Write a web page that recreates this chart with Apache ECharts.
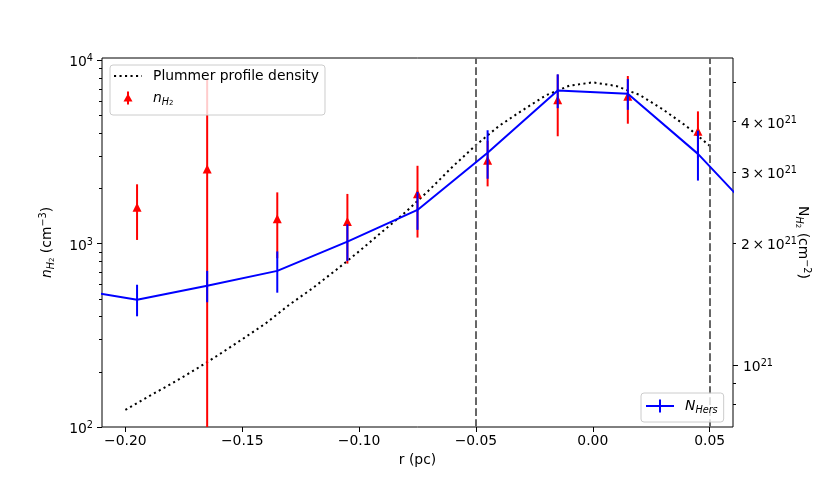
<!DOCTYPE html>
<html><head><meta charset="utf-8">
<script src="https://cdn.jsdelivr.net/npm/echarts@6/dist/echarts.min.js"></script>
<style>html,body{margin:0;padding:0;background:#fff}#c{width:814px;height:480px}</style>
</head><body><div id="c"></div>
<script>
// ---- data ----
const rPlummer = [-0.20,-0.19,-0.18,-0.17,-0.16,-0.15,-0.14,-0.13,-0.12,-0.11,-0.10,-0.09,-0.08,-0.07,-0.06,-0.05,-0.04,-0.03,-0.02,-0.01,0.00,0.01,0.02,0.03,0.04,0.05];
const nPlummer = [124,147,173,206,248,301,367,463,570,716,908,1165,1490,1960,2630,3450,4400,5350,6450,7280,7586,7250,6480,5400,4380,3420];

const rN = [-0.195,-0.165,-0.135,-0.105,-0.075,-0.045,-0.015,0.015,0.045];
const nH2 = [1578,2556,1369,1323,1870,2849,6104,6363,4099];
const nH2Err = [530,5300,536,545,790,795,2250,1850,1170];

const rHers = [-0.225,-0.195,-0.165,-0.135,-0.105,-0.075,-0.045,-0.015,0.015,0.045,0.075];
const NHers = [1.55e21,1.45e21,1.57e21,1.71e21,2.02e21,2.42e21,3.35e21,4.78e21,4.69e21,3.33e21,2.18e21];
const NHersErr = [0.13e21,0.13e21,0.14e21,0.20e21,0.21e21,0.26e21,0.46e21,0.46e21,0.41e21,0.47e21,0.30e21];

const vLines = [-0.05, 0.05];
const xTicks = [-0.20,-0.15,-0.10,-0.05,0.00,0.05];
const leftMajor = [100,1000,10000];
const leftMinor = [200,300,400,500,600,700,800,900,2000,3000,4000,5000,6000,7000,8000,9000];
const rightMajor = [1e21];
const rightMinorLabeled = [2e21,3e21,4e21];
const rightMinor = [8e20,9e20,2e21,3e21,4e21,5e21];
const xRange = [-0.21, 0.06];
const nRange = [100, 10300];
const NRange = [0.7025e21, 5.75e21];

// ---- styling ----
const FF = 'DejaVu Sans';
const FS = 13.9;
const rich = {
  t:  {fontFamily:FF, fontSize:FS, color:'#000', lineHeight:18},
  it: {fontFamily:FF, fontSize:FS, color:'#000', lineHeight:18, fontStyle:'italic'},
  sub:{fontFamily:FF, fontSize:9.7, color:'#000', lineHeight:8, verticalAlign:'bottom', fontStyle:'italic'},
  ss: {fontFamily:FF, fontSize:7, color:'#000', lineHeight:4, verticalAlign:'bottom'},
  sup:{fontFamily:FF, fontSize:9.7, color:'#000', lineHeight:8, verticalAlign:'top'},
  b:  {fontFamily:FF, fontSize:FS, color:'#000', lineHeight:18},
  sp: {fontFamily:FF, fontSize:FS, width:6}
};
const L = Math.log10;
const tickStyle = {color:'#000', width:1};

function errRender(color) {
  return function (params, api) {
    const x = api.value(0), y = api.value(1), e = api.value(2);
    const cs = params.coordSys;
    const top = api.coord([x, y + e]);
    if (top[0] < cs.x - 0.5 || top[0] > cs.x + cs.width + 0.5) return null;
    const yTop = Math.max(top[1], cs.y);
    let yBot = (y - e > 0) ? api.coord([x, y - e])[1] : cs.y + cs.height;
    yBot = Math.min(yBot, cs.y + cs.height);
    return {type:'line', shape:{x1:top[0], y1:yTop, x2:top[0], y2:yBot},
            style:{stroke:color, lineWidth:2}};
  };
}
function powLabel(v) {
  const exp = Math.floor(v + 1e-9);
  const m = Math.round(Math.pow(10, v - exp));
  return m === 1 ? '{b|10}{sup|' + exp + '}' : '{b|' + m + '\u2009×\u200910}{sup|' + exp + '}';
}
const hidden = {axisLine:{show:false, onZero:false}, axisTick:{show:false}, axisLabel:{show:false}, splitLine:{show:false}};

const B = 'M0,7L0.01,7L0.01,7.01Z M28,7L27.99,7L27.99,7.01Z ';
const dotIcon = 'path://' + B + 'M0,6L2.1,6L2.1,8L0,8Z M5.5,6L7.6,6L7.6,8L5.5,8Z M11,6L13.1,6L13.1,8L11,8Z M16.5,6L18.6,6L18.6,8L16.5,8Z M22,6L24.1,6L24.1,8L22,8Z M27.5,6L28,6L28,8L27.5,8Z';
const redIcon = 'path://' + B + 'M13,0.5L15,0.5L15,13.5L13,13.5Z M14,2.5L18.5,10.5L9.5,10.5Z';
const blueIcon = 'path://' + B + 'M0,6L28,6L28,8L0,8Z M13,0.5L15,0.5L15,13.5L13,13.5Z';

const legendNames = {
  'Plummer profile density': '{sp| }{t|Plummer profile density}',
  'nH2': '{sp| }{it|n}{sub|H}{ss|2}',
  'NHers': '{sp| }{it|N}{sub|Hers}'
};
const legendCommon = {
  orient:'vertical', itemWidth:28, itemHeight:14, selectedMode:false, symbolKeepAspect:true,
  backgroundColor:'rgba(255,255,255,0.8)', borderColor:'#cccccc', borderWidth:1, borderRadius:3,
  formatter: n => legendNames[n], textStyle:{rich: rich}, z:10
};
const labPad = [5,0,0,0];

const chart = echarts.init(document.getElementById('c'), null, {renderer:'canvas'});
chart.setOption({
  animation:false,
  textStyle:{fontFamily:FF},
  grid:{left:102, right:81, top:58, bottom:53, show:true, borderColor:'#000', borderWidth:1,
        backgroundColor:'transparent', containLabel:false, outerBoundsMode:'none'},
  legend:[
    Object.assign({}, legendCommon, {left:110, top:65, padding:[4,6,8,4], itemGap:8,
      data:[{name:'Plummer profile density', icon:dotIcon, itemStyle:{color:'#000', opacity:1, borderWidth:0}},
            {name:'nH2', icon:redIcon, itemStyle:{color:'#ff0000', opacity:1, borderWidth:0}}]}),
    Object.assign({}, legendCommon, {left:641, top:393, padding:[6,6,7,5],
      data:[{name:'NHers', icon:blueIcon, itemStyle:{color:'#0000ff', opacity:1, borderWidth:0}}]})
  ],
  xAxis:{
    type:'value', min:xRange[0], max:xRange[1],
    axisLine:{show:false, onZero:false}, splitLine:{show:false},
    axisTick:{customValues:xTicks, length:5, lineStyle:tickStyle},
    axisLabel:{customValues:xTicks, margin:7, fontFamily:FF, fontSize:FS, color:'#000',
      formatter: v => (v < 0 ? '\u2212' : '') + Math.abs(v).toFixed(2)},
    name:'r (pc)', nameLocation:'middle', nameGap:24,
    nameTextStyle:{fontFamily:FF, fontSize:FS, color:'#000'}
  },
  yAxis:[
    Object.assign({type:'log', logBase:10, min:nRange[0], max:nRange[1], position:'left'}, hidden),
    Object.assign({type:'log', logBase:10, min:NRange[0], max:NRange[1], position:'right'}, hidden),
    { // left major ticks + labels
      type:'value', min:L(nRange[0]), max:L(nRange[1]), position:'left',
      axisLine:{show:false, onZero:false}, splitLine:{show:false},
      axisTick:{customValues:leftMajor.map(L), length:5, lineStyle:tickStyle},
      axisLabel:{customValues:leftMajor.map(L), margin:9, padding:labPad, formatter:powLabel, rich:rich},
      name:'{it|n}{sub|H}{ss|2}{t| (cm}{sup|\u22123}{t|)}', nameLocation:'middle', nameRotate:90, nameGap:46,
      nameTextStyle:{rich:rich}
    },
    { // left minor ticks
      type:'value', min:L(nRange[0]), max:L(nRange[1]), position:'left',
      axisLine:{show:false, onZero:false}, splitLine:{show:false},
      axisTick:{customValues:leftMinor.map(L), length:3, lineStyle:tickStyle},
      axisLabel:{show:false}
    },
    { // right major
      type:'value', min:L(NRange[0]), max:L(NRange[1]), position:'right',
      axisLine:{show:false, onZero:false}, splitLine:{show:false},
      axisTick:{customValues:rightMajor.map(L), length:5, lineStyle:tickStyle},
      axisLabel:{customValues:rightMajor.map(L), margin:10, padding:labPad, formatter:powLabel, rich:rich},
      name:'{t|N}{sub|H}{ss|2}{t| (cm}{sup|\u22122}{t|)}', nameLocation:'middle', nameRotate:-90, nameGap:61,
      nameTextStyle:{rich:rich}
    },
    { // right minor
      type:'value', min:L(NRange[0]), max:L(NRange[1]), position:'right',
      axisLine:{show:false, onZero:false}, splitLine:{show:false},
      axisTick:{customValues:rightMinor.map(L), length:3, lineStyle:tickStyle},
      axisLabel:{customValues:rightMinorLabeled.map(L), margin:8, padding:labPad, formatter:powLabel, rich:rich}
    }
  ],
  series:[
    {name:'Plummer profile density', type:'line', yAxisIndex:0, symbol:'none', showSymbol:false, silent:true,
     data: rPlummer.map((r,i) => [r, nPlummer[i]]),
     lineStyle:{color:'#000', width:2, type:[2.1,3.4]}, itemStyle:{color:'#000'}, z:2},
    {name:'nH2 err', type:'custom', yAxisIndex:0, renderItem:errRender('#ff0000'), silent:true,
     data: rN.map((r,i) => [r, nH2[i], nH2Err[i]]), encode:{x:0, y:1}, z:3},
    {name:'nH2', type:'scatter', yAxisIndex:0, symbol:'triangle', symbolSize:9, silent:true,
     data: rN.map((r,i) => [r, nH2[i]]), itemStyle:{color:'#ff0000', opacity:1}, z:4},
    {name:'NHers err', type:'custom', yAxisIndex:1, renderItem:errRender('#0000ff'), silent:true,
     data: rHers.map((r,i) => [r, NHers[i], NHersErr[i]]), encode:{x:0, y:1}, z:6},
    {name:'NHers', type:'line', yAxisIndex:1, symbol:'none', showSymbol:false, silent:true,
     data: rHers.map((r,i) => [r, NHers[i]]),
     lineStyle:{color:'#0000ff', width:2}, itemStyle:{color:'#0000ff'}, z:6,
     markLine:{silent:true, symbol:['none','none'], label:{show:false}, z:5,
       lineStyle:{color:'#666666', width:2, type:[7.7,3.3]}, emphasis:{disabled:true},
       data: vLines.map(v => ({xAxis:v}))}}
  ]
});
</script></body></html>
